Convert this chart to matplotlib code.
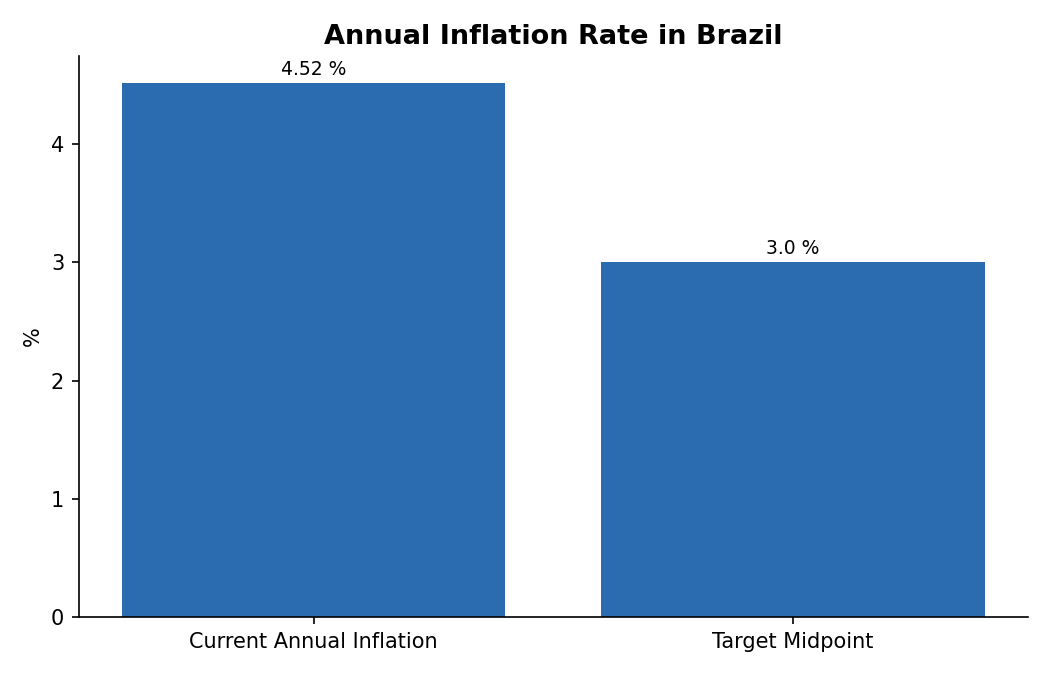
import matplotlib
matplotlib.use("Agg")
import matplotlib.pyplot as plt

plt.rcParams["font.family"] = ["DejaVu Sans"]

categories = ["Current Annual Inflation", "Target Midpoint"]
values = [4.52, 3.0]
labels = ["4.52 %", "3.0 %"]

fig = plt.figure(figsize=(7, 4.5), dpi=150)
ax = fig.add_axes([0.075, 0.086, 0.904, 0.831])
bars = ax.bar(categories, values, width=0.8, color="#2b6cb0")
for b, lab in zip(bars, labels):
    ax.annotate(lab, (b.get_x() + b.get_width() / 2, b.get_height()),
                xytext=(0, 2), textcoords="offset points",
                ha="center", va="bottom", fontsize=9)
ax.set_title("Annual Inflation Rate in Brazil", fontsize=13, fontweight="bold")
ax.set_ylabel("%", fontsize=10)
ax.tick_params(labelsize=10)
ax.spines["top"].set_visible(False)
ax.spines["right"].set_visible(False)
fig.savefig("out.png", dpi=150)
